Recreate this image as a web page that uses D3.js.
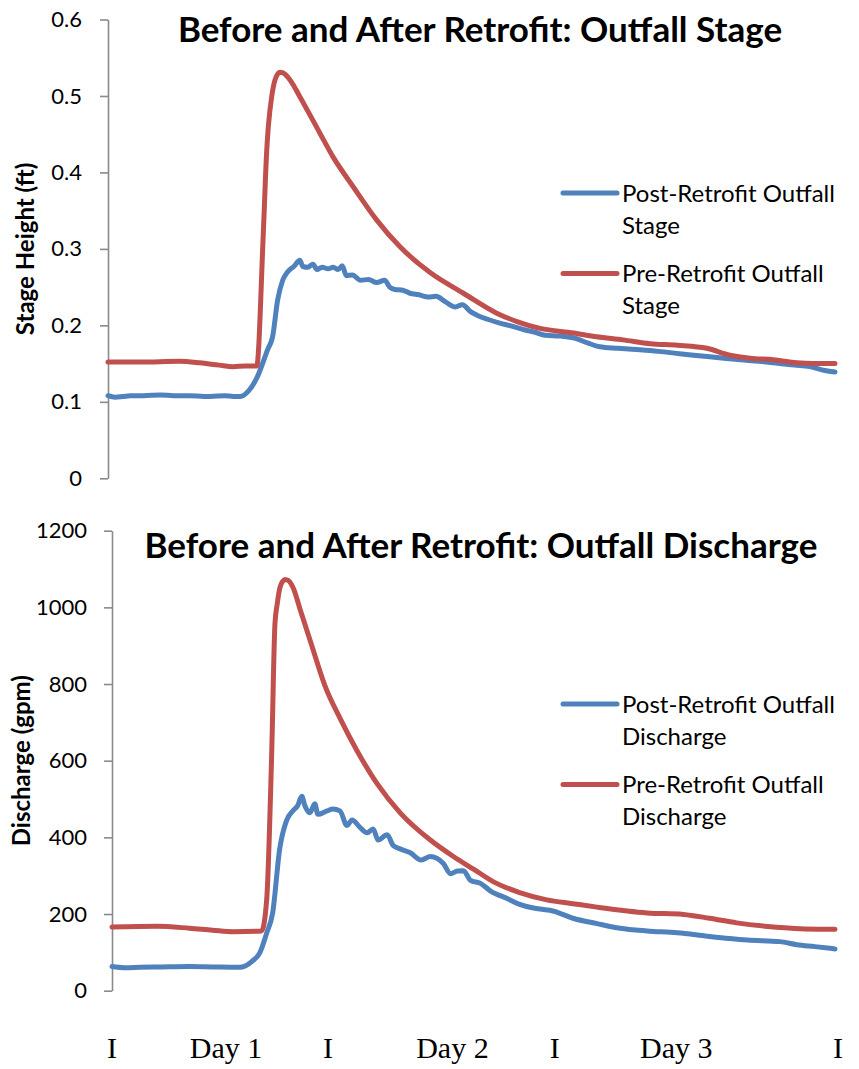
<!DOCTYPE html>
<html>
<head>
<meta charset="utf-8">
<script src="https://cdn.jsdelivr.net/npm/d3@7"></script>
<style>
  body { margin: 0; background: #fff; }
  svg { display: block; }
</style>
</head>
<body>
<svg id="chart" width="859" height="1069"></svg>
<script>
// Time in hours since the start of the record; values read per series.
const stagePost = [
  [0,0.108],[0.7,0.106],[1.5,0.107],[2.2,0.108],[3.5,0.108],[5.2,0.109],[6.5,0.108],
  [8.1,0.108],[9.5,0.107],[10.1,0.107],[11.6,0.108],[12.4,0.107],[13.1,0.107],
  [13.9,0.114],[14.8,0.133],[15.8,0.168],[16.3,0.185],[16.8,0.233],[17.3,0.259],
  [17.8,0.270],[18.4,0.277],[19.0,0.285],[19.3,0.277],[19.8,0.276],[20.3,0.280],
  [20.7,0.273],[21.2,0.276],[21.8,0.274],[22.3,0.276],[22.8,0.273],[23.2,0.278],
  [23.6,0.265],[24.2,0.266],[25.0,0.259],[25.8,0.260],[26.6,0.256],[27.4,0.259],
  [27.9,0.250],[28.4,0.247],[29.2,0.246],[29.9,0.242],[30.8,0.240],[31.7,0.237],
  [32.5,0.238],[33.4,0.231],[34.4,0.224],[35.1,0.227],[35.9,0.218],[36.6,0.213],
  [37.6,0.208],[38.8,0.203],[40.0,0.199],[41.3,0.194],[42.3,0.191],[43.3,0.187],
  [44.8,0.186],[46.3,0.183],[47.5,0.177],[48.7,0.172],[50.5,0.170],[52.7,0.168],
  [54.5,0.166],[56.6,0.163],[58.0,0.161],[59.6,0.159],[61.0,0.157],[62.6,0.155],
  [64.5,0.153],[66.5,0.150],[68.0,0.148],[69.5,0.146],[71.0,0.141],[72.0,0.139]
];
const stagePre = [
  [0,0.152],[3.2,0.152],[7.1,0.153],[9.1,0.151],[11.0,0.148],[12.4,0.146],
  [13.6,0.147],[14.73,0.147],[15.38,0.320],[15.72,0.429],[15.88,0.460],[16.21,0.499],
  [16.54,0.521],[17.04,0.531],[17.36,0.530],[18.03,0.521],[19.0,0.499],[21.0,0.451],
  [22.3,0.420],[24.3,0.381],[26.6,0.338],[28.9,0.303],[31.9,0.269],[35.2,0.242],
  [38.5,0.216],[40.5,0.205],[42.8,0.196],[46.1,0.190],[48.4,0.185],[51.0,0.181],
  [53.7,0.176],[56.4,0.174],[59.3,0.170],[61.6,0.161],[63.6,0.157],[65.9,0.155],
  [68.2,0.151],[69.8,0.150],[72.0,0.150]
];
const dischargePost = [
  [0,63],[1.2,60],[2.8,61],[5.0,62],[7.7,63],[10.0,62],[12.7,61],[14.0,78],
  [14.7,98],[15.4,150],[16.0,203],[16.7,370],[17.4,445],[18.0,469],[18.5,483],
  [18.9,507],[19.2,483],[19.7,464],[20.2,488],[20.5,460],[21.4,469],[22.0,474],
  [22.7,469],[23.4,431],[23.9,445],[24.7,426],[25.4,412],[26.0,422],[26.5,393],
  [27.4,407],[28.0,379],[28.7,370],[29.7,360],[30.8,341],[31.7,350],[33.0,332],
  [33.7,305],[34.4,312],[35.0,313],[35.7,288],[36.7,280],[37.7,260],[39.4,240],
  [40.6,225],[42.6,213],[43.9,208],[45.9,189],[48.3,175],[50.6,163],[53.3,156],
  [56.3,151],[59.3,142],[61.5,136],[63.3,132],[66.5,128],[68.2,120],[70.0,115],
  [72.0,109]
];
const dischargePre = [
  [0,166],[4.5,168],[7.7,163],[10.0,158],[12.1,154],[14.9,156],[15.4,236],
  [15.9,616],[16.23,958],[16.46,1010],[16.73,1052],[17.0,1068],[17.23,1073],
  [17.56,1070],[18.06,1050],[18.72,996],[19.9,900],[21.2,796],[22.7,711],
  [24.4,626],[26.4,540],[28.7,464],[31.7,393],[34.0,350],[36.0,317],[38.0,284],
  [40.6,256],[43.3,237],[45.9,227],[48.3,218],[53.3,203],[56.9,199],[59.5,189],
  [62.2,177],[66.5,165],[69.0,161],[72.0,160]
];

const stageTicks = [0, 0.1, 0.2, 0.3, 0.4, 0.5, 0.6];
const dischargeTicks = [0, 200, 400, 600, 800, 1000, 1200];
const dayLabels = ["I", "Day 1", "I", "Day 2", "I", "Day 3", "I"];
const dayLabelHours = [0, 11.35, 21.5, 33.9, 44.1, 56.2, 72.3];

const seriesNames = ["Post-Retrofit Outfall", "Pre-Retrofit Outfall"];
const seriesColors = ["#4F81BD", "#C0504D"];

const panels = [
  {
    title: "Before and After Retrofit: Outfall Stage",
    yTitle: "Stage Height (ft)",
    unit: "Stage",
    series: [stagePost, stagePre],
    ticks: stageTicks,
    yMax: 0.6,
    xRange: [108, 835],
    yRange: [478.3, 19.5],
    tickPad: 18,
    titleX: 480, titleY: 41.5,
    yTitleX: 34,
    legendX: 563, legendY: 193
  },
  {
    title: "Before and After Retrofit: Outfall Discharge",
    yTitle: "Discharge (gpm)",
    unit: "Discharge",
    series: [dischargePost, dischargePre],
    ticks: dischargeTicks,
    yMax: 1200,
    xRange: [112, 835],
    yRange: [990.7, 530.7],
    tickPad: 17,
    titleX: 481, titleY: 558,
    yTitleX: 30,
    legendX: 563, legendY: 704
  }
];

const svg = d3.select("#chart");
const sans = "Lato, 'Open Sans', sans-serif";

panels.forEach(p => {
  const x = d3.scaleLinear().domain([0, 72]).range(p.xRange);
  const y = d3.scaleLinear().domain([0, p.yMax]).range(p.yRange);
  const g = svg.append("g");

  // Vertical axis
  const ax = g.append("g")
    .attr("transform", `translate(${p.xRange[0]},0)`)
    .call(d3.axisLeft(y).tickValues(p.ticks).tickSize(8).tickSizeOuter(0)
      .tickPadding(p.tickPad).tickFormat(d3.format("~g")));
  ax.select(".domain").attr("stroke", "#8a8a8a").attr("stroke-width", 1.6);
  ax.selectAll(".tick line").attr("stroke", "#8a8a8a").attr("stroke-width", 1.6);
  ax.selectAll(".tick text")
    .attr("fill", "#000")
    .style("font-family", sans)
    .style("font-size", "22px");

  // Axis title
  const yMid = (p.yRange[0] + p.yRange[1]) / 2;
  g.append("text")
    .attr("transform", `translate(${p.yTitleX},${yMid}) rotate(-90)`)
    .attr("text-anchor", "middle")
    .style("font-family", sans)
    .style("font-weight", "bold")
    .style("font-size", "24px")
    .text(p.yTitle);

  // Chart title
  g.append("text")
    .attr("x", p.titleX).attr("y", p.titleY)
    .attr("text-anchor", "middle")
    .style("font-family", sans)
    .style("font-weight", "bold")
    .style("font-size", "35px")
    .text(p.title);

  // Series lines
  const line = d3.line()
    .curve(d3.curveMonotoneX)
    .x(d => x(d[0])).y(d => y(d[1]));
  p.series.forEach((s, i) => {
    g.append("path")
      .datum(s)
      .attr("fill", "none")
      .attr("stroke", seriesColors[i])
      .attr("stroke-width", 5)
      .attr("stroke-linejoin", "round")
      .attr("stroke-linecap", "round")
      .attr("d", line);
  });

  // Legend
  seriesNames.forEach((name, i) => {
    const ly = p.legendY + i * 80.5;
    g.append("line")
      .attr("x1", p.legendX).attr("x2", p.legendX + 54)
      .attr("y1", ly).attr("y2", ly)
      .attr("stroke", seriesColors[i])
      .attr("stroke-width", 5)
      .attr("stroke-linecap", "round");
    const t = g.append("text")
      .attr("x", p.legendX + 59).attr("y", ly + 8.5)
      .style("font-family", sans)
      .style("font-size", "24px");
    t.append("tspan").attr("x", p.legendX + 59).text(name);
    t.append("tspan").attr("x", p.legendX + 59).attr("dy", 32).text(p.unit);
  });
});

// Day markers under the lower panel
const xDays = d3.scaleLinear().domain([0, 72]).range(panels[1].xRange);
svg.append("g").selectAll("text")
  .data(dayLabels)
  .join("text")
  .attr("x", (d, i) => xDays(dayLabelHours[i]))
  .attr("y", 1058)
  .attr("text-anchor", "middle")
  .style("font-family", "'Liberation Serif', 'Times New Roman', serif")
  .style("font-size", "30px")
  .text(d => d);
</script>
</body>
</html>
